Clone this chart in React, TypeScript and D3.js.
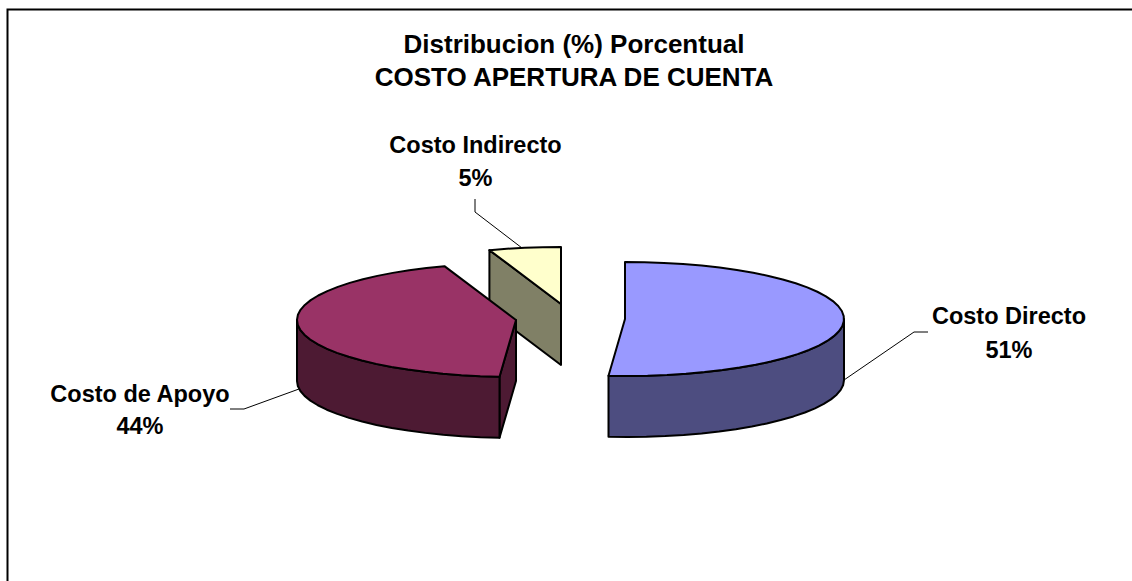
import React from 'react';
import * as d3 from 'd3';

const categories = ['Costo Directo', 'Costo de Apoyo', 'Costo Indirecto'];
const values = [51.2, 43.5, 5.3];
const topColors = ['#9999FF', '#993366', '#FFFFCC'];
const sideColors = ['#4D4D80', '#4D1A33', '#808066'];
const titleLines = ['Distribucion (%) Porcentual', 'COSTO APERTURA DE CUENTA'];

const width = 1132;
const height = 581;
const rx = 219;
const ry = 57;
const depth = 61;

// exploded slice centres, same order as categories
const centers = [
  { x: 625, y: 319 },
  { x: 516, y: 320 },
  { x: 561, y: 304 },
];

const labelLayout = [
  { x: 1009, y1: 324, y2: 358 },
  { x: 140, y1: 402, y2: 434 },
  { x: 475.5, y1: 153, y2: 186 },
];

const leaders = [
  [[844, 380], [914, 332], [928, 332]],
  [[299, 389], [244, 409], [230, 409]],
  [[522, 248], [475, 212], [475, 199]],
];

const pie = d3.pie<number>().sort(null).startAngle(0).endAngle(2 * Math.PI);
const lineGen = d3.line();
const pct = d3.format('.0f');

const project = (c: { x: number; y: number }, a: number, dy = 0): [number, number] => [
  c.x + rx * Math.sin(a),
  c.y - ry * Math.cos(a) + dy,
];

const arcPoints = (c: { x: number; y: number }, a0: number, a1: number, dy = 0) => {
  const n = Math.max(2, Math.ceil((a1 - a0) / 0.09));
  return d3.range(n + 1).map(i => project(c, a0 + ((a1 - a0) * i) / n, dy));
};

const font = { fontFamily: '"Liberation Sans", Arial, sans-serif', fontWeight: 700 };

export default function App() {
  const arcs = pie(values);
  // back slices first so the large ones cover the small one
  const order = [2, 1, 0];

  return (
    <svg
      width={width}
      height={height}
      viewBox={`0 0 ${width} ${height}`}
      style={{ position: 'absolute', left: 0, top: 0, background: '#fff' }}
    >
      <path d={`M7.5,${height}V9.5H${width}`} fill="none" stroke="#000" strokeWidth={2} />

      {titleLines.map((t, i) => (
        <text key={t} x={574} y={53 + i * 33} textAnchor="middle" fontSize={26} fill="#000" style={font}>
          {t}
        </text>
      ))}

      {leaders.map((pts, i) => (
        <path
          key={categories[i]}
          d={lineGen(pts as [number, number][]) || ''}
          fill="none"
          stroke="#000"
          strokeWidth={1}
        />
      ))}

      {order.map(i => {
        const { startAngle, endAngle } = arcs[i];
        const c = centers[i];
        const top = arcPoints(c, startAngle, endAngle);
        const wall0 = Math.max(startAngle, Math.PI / 2);
        const wall1 = Math.min(endAngle, 1.5 * Math.PI);
        const side = { fill: sideColors[i], stroke: '#000', strokeWidth: 2, strokeLinejoin: 'round' as const };
        return (
          <g key={categories[i]}>
            {startAngle > 0 && (
              <path
                {...side}
                d={
                  (lineGen([
                    [c.x, c.y],
                    project(c, startAngle),
                    project(c, startAngle, depth),
                    [c.x, c.y + depth],
                  ]) || '') + 'Z'
                }
              />
            )}
            {wall1 > wall0 && (
              <path
                {...side}
                d={
                  (lineGen([
                    ...arcPoints(c, wall0, wall1),
                    ...arcPoints(c, wall0, wall1, depth).reverse(),
                  ]) || '') + 'Z'
                }
              />
            )}
            <path
              d={(lineGen([[c.x, c.y], ...top]) || '') + 'Z'}
              fill={topColors[i]}
              stroke="#000"
              strokeWidth={2}
              strokeLinejoin="round"
            />
          </g>
        );
      })}

      {categories.map((name, i) => (
        <g key={name} fontSize={23.5} fill="#000" textAnchor="middle" style={font}>
          <text x={labelLayout[i].x} y={labelLayout[i].y1}>{name}</text>
          <text x={labelLayout[i].x} y={labelLayout[i].y2}>{pct(values[i])}%</text>
        </g>
      ))}
    </svg>
  );
}
